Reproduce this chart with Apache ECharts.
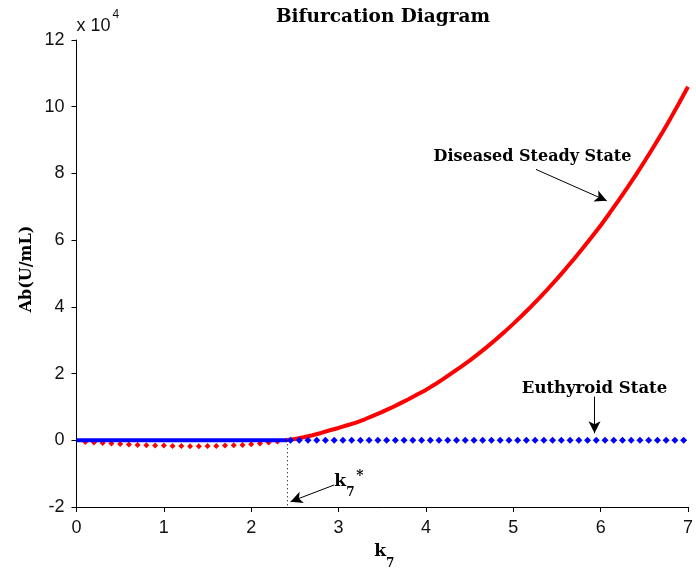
<!DOCTYPE html>
<html>
<head>
<meta charset="utf-8">
<script src="https://cdn.jsdelivr.net/npm/echarts@6/dist/echarts.min.js"></script>
<style>
  html, body { margin: 0; padding: 0; background: #fff; }
  #chart { width: 696px; height: 573px; }
</style>
</head>
<body>
<div id="chart"></div>
<script>
// Ab values are expressed in units of 10^4 U/mL.

// Axis ranges
const kRange = { min: 0, max: 7, interval: 1 };
const abRange = { min: -2, max: 12, interval: 2 };

// Bifurcation point k7*
const bifurcationK = 2.41;

// Diseased steady state (stable upper branch)
const diseasedK = [2.4, 2.5, 2.6, 2.7, 2.8, 2.9, 3.0, 3.1, 3.2, 3.3, 3.4, 3.5, 3.6, 3.7, 3.8, 3.9,
  4.0, 4.1, 4.2, 4.3, 4.4, 4.5, 4.6, 4.7, 4.8, 4.9, 5.0, 5.1, 5.2, 5.3, 5.4, 5.5, 5.6, 5.7, 5.8, 5.9,
  6.0, 6.1, 6.2, 6.3, 6.4, 6.5, 6.6, 6.7, 6.8, 6.9, 7.0];
const diseasedAb = [0, 0.04, 0.09, 0.15, 0.22, 0.3, 0.37, 0.45, 0.53, 0.63, 0.74, 0.85, 0.97, 1.1, 1.23, 1.37,
  1.51, 1.67, 1.84, 2.02, 2.2, 2.39, 2.59, 2.8, 3.02, 3.25, 3.49, 3.74, 4.0, 4.27, 4.55, 4.84, 5.14, 5.45, 5.77, 6.1,
  6.44, 6.8, 7.17, 7.55, 7.94, 8.35, 8.77, 9.2, 9.65, 10.12, 10.6];

// Negative (non-physical) branch below k7*
const negativeK = [0.1, 0.2, 0.3, 0.4, 0.5, 0.6, 0.7, 0.8, 0.9, 1.0, 1.1, 1.2,
  1.3, 1.4, 1.5, 1.6, 1.7, 1.8, 1.9, 2.0, 2.1, 2.2, 2.3];
const negativeAb = [-0.05, -0.07, -0.08, -0.1, -0.11, -0.13, -0.14, -0.15, -0.16, -0.16, -0.17, -0.17,
  -0.18, -0.18, -0.17, -0.17, -0.16, -0.15, -0.14, -0.12, -0.1, -0.07, -0.04];

// Euthyroid state: stable segment (solid) and beyond k7* (markers)
const euthyroidLineK = [0, 2.41];
const euthyroidLineAb = [0, 0];
const euthyroidK = [2.45, 2.55, 2.65, 2.75, 2.85, 2.95, 3.05, 3.15, 3.25, 3.35, 3.45, 3.55, 3.65, 3.75, 3.85, 3.95,
  4.05, 4.15, 4.25, 4.35, 4.45, 4.55, 4.65, 4.75, 4.85, 4.95, 5.05, 5.15, 5.25, 5.35, 5.45, 5.55, 5.65, 5.75,
  5.85, 5.95, 6.05, 6.15, 6.25, 6.35, 6.45, 6.55, 6.65, 6.75, 6.85, 6.95];
const euthyroidAb = [0, 0, 0, 0, 0, 0, 0, 0, 0, 0, 0, 0, 0, 0, 0, 0,
  0, 0, 0, 0, 0, 0, 0, 0, 0, 0, 0, 0, 0, 0, 0, 0, 0, 0,
  0, 0, 0, 0, 0, 0, 0, 0, 0, 0, 0, 0];

// Annotation arrows: [tailK, tailAb, headK, headAb]
const arrowDiseased = [5.26, 8.12, 6.07, 7.18];
const arrowEuthyroid = [5.93, 1.31, 5.93, 0.21];
const arrowK7 = [2.95, -1.34, 2.45, -1.84];

const pair = (xs, ys) => xs.map((x, i) => [x, ys[i]]);

const SERIF = '"DejaVu Serif", "Liberation Serif", serif';
const SANS = '"Liberation Sans", Arial, sans-serif';

const chart = echarts.init(document.getElementById('chart'), null, { renderer: 'canvas' });

const axisCommon = {
  type: 'value',
  axisLine: { show: true, onZero: false, lineStyle: { color: '#000', width: 1 } },
  axisTick: { show: true, inside: false, length: 5, lineStyle: { color: '#000', width: 1 } },
  axisLabel: { color: '#111', fontFamily: SANS, fontSize: 18, margin: 12 },
  splitLine: { show: false }
};

chart.setOption({
  animation: false,
  backgroundColor: '#fff',
  grid: { left: 76.5, right: 0.5, top: 40, bottom: 66, containLabel: false },
  xAxis: Object.assign({}, axisCommon, { min: kRange.min, max: kRange.max, interval: kRange.interval }),
  yAxis: Object.assign({}, axisCommon, { min: abRange.min, max: abRange.max, interval: abRange.interval }),
  series: [
    {
      name: 'negative branch', type: 'line', data: pair(negativeK, negativeAb),
      lineStyle: { width: 0, opacity: 0 }, symbol: 'diamond', symbolSize: 6, showSymbol: true,
      itemStyle: { color: '#ff0000' }, z: 2
    },
    {
      name: 'diseased', type: 'line', data: pair(diseasedK, diseasedAb),
      showSymbol: false, symbol: 'none', lineStyle: { color: '#ff0000', width: 4 }, z: 3
    },
    {
      name: 'euthyroid line', type: 'line', data: pair(euthyroidLineK, euthyroidLineAb),
      showSymbol: false, symbol: 'none', lineStyle: { color: '#0000ff', width: 4 }, z: 4
    },
    {
      name: 'euthyroid', type: 'line', data: pair(euthyroidK, euthyroidAb),
      lineStyle: { width: 0, opacity: 0 }, symbol: 'diamond', symbolSize: 7, showSymbol: true,
      itemStyle: { color: '#0000ff' }, z: 4
    },
    {
      name: 'k7 marker', type: 'line', data: [], z: 5,
      markLine: {
        silent: true, symbol: ['none', 'none'], label: { show: false },
        lineStyle: { color: '#000', width: 1, type: [1, 3] },
        data: [[{ coord: [bifurcationK, 0] }, { coord: [bifurcationK, abRange.min] }]]
      }
    },
    {
      name: 'arrows', type: 'line', data: [], z: 6,
      markLine: {
        silent: true, symbol: ['none', 'arrow'], symbolSize: [9, 12], label: { show: false },
        lineStyle: { color: '#000', width: 1, type: 'solid' },
        data: [arrowDiseased, arrowEuthyroid, arrowK7].map(a => [
          { coord: [a[0], a[1]] }, { coord: [a[2], a[3]] }
        ])
      }
    }
  ]
});

// Text placed at data coordinates
const at = (k, ab) => chart.convertToPixel({ gridIndex: 0 }, [k, ab]);
const boldSerif = (size) => ({ fontFamily: SERIF, fontWeight: 'bold', fontSize: size, fill: '#000' });

const pDiseased = at(5.22, 8.5);
const pEuthyroid = at(5.93, 1.54);
const pK7 = at(2.95, -1.25);
const plotLeft = at(kRange.min, abRange.max);
const plotBottom = at(3.5, abRange.min);

chart.setOption({
  graphic: [
    { type: 'text', x: 383, y: 17, style: Object.assign(boldSerif(18.5), { text: 'Bifurcation Diagram', align: 'center', verticalAlign: 'middle' }) },
    { type: 'text', x: plotLeft[0], y: 26, style: { text: 'x 10', fontFamily: SANS, fontSize: 18, fill: '#111', align: 'left', verticalAlign: 'middle' } },
    { type: 'text', x: plotLeft[0] + 36, y: 15, style: { text: '4', fontFamily: SANS, fontSize: 12, fill: '#111', align: 'left', verticalAlign: 'middle' } },
    { type: 'text', x: 27, y: 269, rotation: Math.PI / 2, style: Object.assign(boldSerif(16), { text: 'Ab(U/mL)', align: 'center', verticalAlign: 'middle' }) },
    { type: 'text', x: plotBottom[0] - 2, y: 552, style: Object.assign(boldSerif(17), { text: 'k', align: 'center', verticalAlign: 'middle' }) },
    { type: 'text', x: plotBottom[0] + 8, y: 564, style: Object.assign(boldSerif(12), { text: '7', align: 'center', verticalAlign: 'middle' }) },
    { type: 'text', x: pDiseased[0], y: pDiseased[1], style: Object.assign(boldSerif(16), { text: 'Diseased Steady State', align: 'center', verticalAlign: 'middle' }) },
    { type: 'text', x: pEuthyroid[0], y: pEuthyroid[1], style: Object.assign(boldSerif(16.5), { text: 'Euthyroid State', align: 'center', verticalAlign: 'middle' }) },
    { type: 'text', x: pK7[0], y: pK7[1], style: Object.assign(boldSerif(17), { text: 'k', align: 'left', verticalAlign: 'middle' }) },
    { type: 'text', x: pK7[0] + 12, y: pK7[1] + 11, style: Object.assign(boldSerif(12), { text: '7', align: 'left', verticalAlign: 'middle' }) },
    { type: 'text', x: pK7[0] + 22, y: pK7[1] - 6, style: Object.assign(boldSerif(14), { text: '*', align: 'left', verticalAlign: 'middle' }) }
  ]
});
</script>
</body>
</html>
